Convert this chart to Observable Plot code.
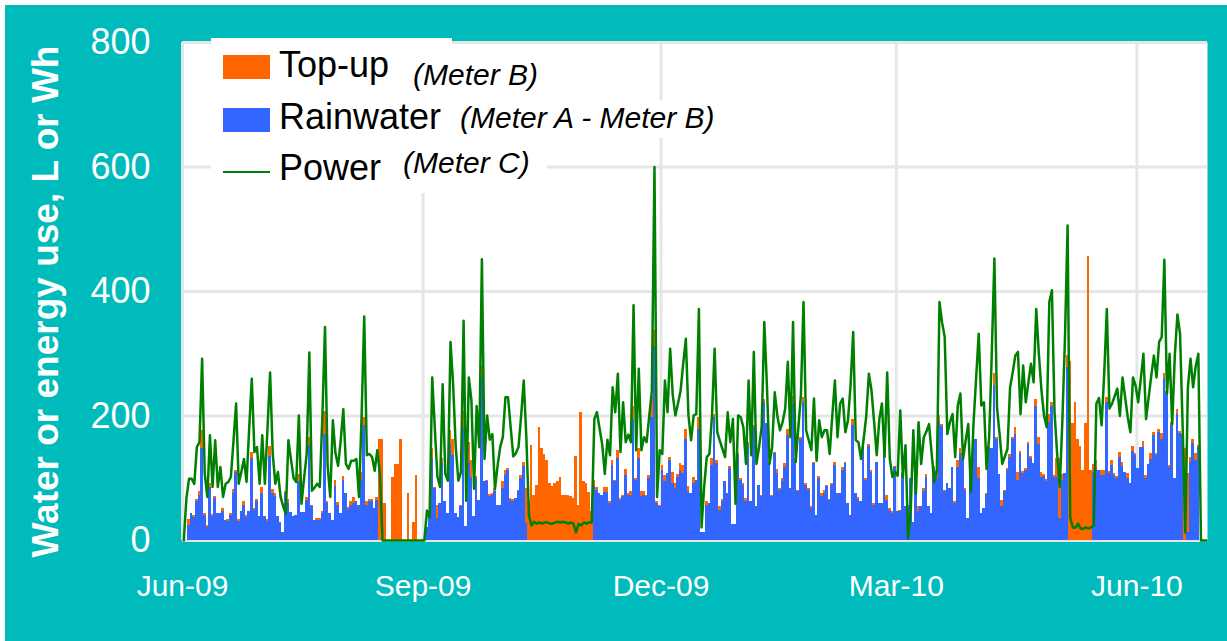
<!DOCTYPE html>
<html>
<head>
<meta charset="utf-8">
<script src="https://cdn.jsdelivr.net/npm/d3@7"></script>
<script src="https://cdn.jsdelivr.net/npm/@observablehq/plot@0.6"></script>
<style>
  html, body { margin: 0; padding: 0; background: #ffffff; }
  #wrap { position: relative; width: 1227px; height: 641px; overflow: hidden; font-family: "Liberation Sans", Arial, sans-serif; }
  #bg { position: absolute; left: 5px; top: 5px; right: 0; bottom: 0; background: #00BBBB; }
  #chart { position: absolute; left: 0; top: 0; }
  .lg { position: absolute; white-space: nowrap; line-height: 1; color: #000; }
  .box { position: absolute; background: #fff; }
</style>
</head>
<body>
<div id="wrap">
  <div id="bg"></div>
  <div id="chart"></div>
  <div id="legend"></div>
</div>
<script>
// ---- data: daily values from 1 Jun 2009 (index 0) ----
const startDay = "2009-06-01";
const endDay = "2010-06-28";

const rainwater = [
  0,0,24,43,37,63,72,147,40,21,
  85,38,68,43,43,47,32,30,40,75,
  110,31,47,56,37,47,132,48,63,38,
  75,38,30,135,75,70,38,29,13,75,
  59,45,38,40,94,45,45,64,153,54,
  32,32,32,43,171,59,43,32,87,56,
  43,96,76,49,56,59,62,56,96,185,
  56,62,62,51,64,0,0,0,0,0,
  0,0,0,0,0,0,0,0,0,0,
  0,0,0,21,43,131,83,35,59,123,
  62,43,156,137,44,37,54,182,22,126,
  102,39,99,64,262,95,94,70,72,79,
  56,56,83,105,112,65,63,67,78,100,
  119,27,0,0,0,0,0,0,0,0,
  0,0,0,0,0,0,0,0,0,0,
  0,0,0,0,0,0,0,86,80,75,
  72,77,77,59,120,94,131,64,70,105,
  72,73,195,96,132,70,73,70,100,198,
  311,59,54,112,94,107,128,91,83,102,
  112,107,163,78,75,91,96,179,13,13,
  56,60,120,197,124,48,62,95,75,116,
  25,25,137,96,88,63,153,63,182,54,
  88,71,222,188,123,70,139,107,80,94,
  118,169,83,218,128,78,162,222,88,80,
  51,123,40,99,70,75,86,64,88,120,
  75,75,112,123,59,40,185,75,66,63,
  152,96,151,110,56,126,60,60,163,64,
  48,44,118,46,46,107,54,56,99,29,
  115,46,54,78,102,54,43,115,102,191,
  183,78,91,83,118,59,118,140,132,80,
  35,124,163,163,99,43,51,74,147,147,
  249,163,106,54,78,113,134,163,171,96,
  139,107,112,155,132,123,215,155,102,103,
  95,190,215,102,102,35,97,107,278,0,
  0,0,0,0,0,0,0,0,110,115,
  112,104,104,222,107,120,104,99,134,119,
  110,99,91,143,137,116,150,150,99,122,
  130,169,137,174,163,260,236,118,185,99,
  203,172,171,0,13,126,156,129,150,0,
  0,0
];

const topUp = [
  0,0,10,0,3,3,6,30,4,3,
  7,4,3,0,0,4,0,3,4,7,
  3,3,0,6,3,0,10,4,3,0,
  10,0,3,16,7,5,0,0,0,4,
  7,0,0,0,12,0,0,5,13,3,
  0,3,3,4,36,4,0,0,9,5,
  0,7,0,4,6,10,0,0,14,13,
  6,4,4,0,5,162,162,59,0,0,
  101,122,122,162,0,0,75,0,29,104,
  0,0,0,0,0,16,2,21,0,8,
  0,0,21,26,0,0,3,26,0,32,
  27,0,4,0,19,0,3,4,3,4,
  0,0,11,8,3,3,3,0,2,5,
  6,56,62,152,72,88,182,147,138,129,
  91,86,91,95,102,72,72,72,70,68,
  135,56,205,94,91,77,46,11,5,0,
  0,8,8,3,8,3,13,3,3,9,
  3,5,21,4,15,8,5,3,5,33,
  27,3,3,9,11,0,5,19,8,4,
  11,14,15,8,0,11,0,19,0,0,
  7,0,11,6,4,7,4,0,0,3,
  0,0,3,4,3,4,4,0,3,0,
  0,2,4,0,3,3,3,7,3,6,
  5,9,0,13,4,2,4,8,4,3,
  3,3,0,4,5,6,3,2,3,5,
  1,0,6,3,0,0,9,0,3,0,
  4,4,4,3,3,0,0,0,4,8,
  4,3,1,0,2,0,0,0,0,0,
  0,8,0,5,4,0,0,4,11,10,
  4,2,0,0,0,3,10,7,7,3,
  0,4,7,0,18,0,0,2,4,0,
  19,3,0,11,2,2,4,3,10,13,
  4,4,3,3,3,0,12,10,8,3,
  3,12,7,2,29,96,9,0,19,288,
  188,221,162,151,112,188,456,112,12,13,
  0,8,8,8,4,8,3,4,7,7,
  0,9,0,8,3,0,0,9,6,0,
  9,4,3,5,9,9,3,3,4,0,
  7,3,0,147,95,7,7,11,3,0,
  0,0
];

const power = [
  0,68,99,99,91,150,158,292,107,70,
  169,86,161,86,118,70,91,94,102,160,
  220,91,110,131,94,180,260,142,150,91,
  169,91,180,270,140,91,110,70,55,43,
  161,130,100,94,201,59,100,139,302,80,
  85,91,86,200,343,120,70,193,140,120,
  160,211,123,115,128,128,131,70,200,360,
  137,139,134,112,145,107,0,0,0,0,
  0,0,0,0,0,0,0,0,0,0,
  0,0,0,48,37,262,180,102,86,251,
  107,96,319,250,150,96,110,353,64,262,
  225,83,216,150,452,131,201,162,171,83,
  120,150,166,230,230,182,135,140,150,200,
  257,166,40,24,30,27,29,27,29,29,
  27,27,29,30,29,30,29,27,29,27,
  13,27,24,29,27,29,29,195,206,180,
  155,107,162,137,246,206,268,142,222,158,
  170,158,378,145,276,145,166,158,200,240,
  600,70,145,139,257,206,308,233,201,220,
  241,284,324,201,161,201,203,372,21,86,
  134,139,200,308,174,160,147,134,206,158,
  195,59,201,198,182,123,257,137,303,123,
  150,182,351,250,123,150,238,200,177,190,
  212,287,166,351,126,180,233,383,177,161,
  145,228,128,193,166,177,177,139,200,257,
  166,220,228,174,193,250,335,161,158,131,
  163,200,268,241,190,137,195,220,134,270,
  131,102,110,104,209,102,153,3,48,177,
  75,190,123,166,175,187,140,94,112,383,
  350,327,171,190,203,134,217,236,131,160,
  187,78,187,260,332,217,222,115,166,300,
  453,214,170,123,135,147,246,270,297,303,
  203,281,222,254,284,254,372,300,241,200,
  182,383,402,206,139,86,193,327,506,37,
  21,21,27,19,19,21,19,21,24,220,
  229,185,268,372,212,220,232,244,200,262,
  230,198,174,262,249,222,260,300,195,230,
  265,297,262,319,327,451,236,300,187,297,
  363,332,182,13,246,292,246,280,300,0,
  0,0
];

const yTicks = [0, 200, 400, 600, 800];
const xTickDates = ["2009-06-01", "2009-09-01", "2009-12-01", "2010-03-01", "2010-06-01"];
const yTitle = "Water or energy use, L or Wh";
const legendItems = [
  {name: "Top-up", note: "(Meter B)", kind: "rect", color: "#FF6600"},
  {name: "Rainwater", note: "(Meter A - Meter B)", kind: "rect", color: "#3366FF"},
  {name: "Power", note: "(Meter C)", kind: "line", color: "#008000"}
];

// ---- build table ----
const DAY = 864e5;
const t0 = new Date(startDay + "T00:00:00Z").getTime();
const rows = rainwater.map((r, i) => ({
  d1: new Date(t0 + i * DAY),
  d2: new Date(t0 + (i + 1) * DAY),
  mid: new Date(t0 + (i + 0.5) * DAY),
  rain: r,
  top: topUp[i],
  total: r + topUp[i],
  power: power[i]
}));
const tickDates = xTickDates.map(s => new Date(s + "T00:00:00Z"));
const fmt = d3.utcFormat("%b-%y");

const chart = Plot.plot({
  width: 1227,
  height: 641,
  marginLeft: 182,
  marginRight: 20,
  marginTop: 42,
  marginBottom: 101,
  style: {background: "transparent", fontFamily: "'Liberation Sans', Arial, sans-serif", fontSize: "36px", color: "#ffffff", overflow: "visible"},
  x: {type: "utc", domain: [new Date(startDay + "T00:00:00Z"), new Date(endDay + "T00:00:00Z")], ticks: tickDates, tickFormat: fmt, tickSize: 0, tickPadding: 34, label: null, line: false},
  y: {domain: [0, 800], ticks: yTicks, tickSize: 0, tickPadding: 32, label: null, line: false},
  marks: [
    Plot.frame({fill: "#ffffff", stroke: "none"}),
    Plot.ruleY(yTicks, {stroke: "#E6E6E6", strokeWidth: 3}),
    Plot.ruleX(tickDates, {stroke: "#E6E6E6", strokeWidth: 3}),
    Plot.rectY(rows.filter(d => d.rain > 0), {x1: "d1", x2: "d2", y1: 0, y2: "rain", fill: "#3366FF", inset: 0, shapeRendering: "crispEdges"}),
    Plot.rectY(rows.filter(d => d.top > 0), {x1: "d1", x2: "d2", y1: "rain", y2: "total", fill: "#FF6600", inset: 0, shapeRendering: "crispEdges"}),
    Plot.line(rows, {x: "mid", y: "power", stroke: "#008000", strokeWidth: 2.5, strokeLinejoin: "round"}),
    Plot.text([yTitle], {frameAnchor: "left", textAnchor: "middle", dx: -136, dy: 10, rotate: -90, fill: "#ffffff", fontSize: 37, fontWeight: "bold", text: d => d})
  ]
});

// axis text sizes
chart.querySelectorAll('g[aria-label^="x-axis"] text').forEach(t => { t.setAttribute("font-size", "30"); t.style.fontSize = "30px"; t.setAttribute("fill", "#ffffff"); });
chart.querySelectorAll('g[aria-label^="y-axis"] text').forEach(t => { t.setAttribute("font-size", "36"); t.style.fontSize = "36px"; t.setAttribute("fill", "#ffffff"); });
document.getElementById("chart").appendChild(chart);

// ---- legend overlay (layout only) ----
const lg = document.getElementById("legend");
function add(cls, css, text) {
  const el = document.createElement("div");
  el.className = cls;
  Object.assign(el.style, css);
  if (text) el.textContent = text;
  lg.appendChild(el);
  return el;
}
add("box", {left: "211px", top: "38px", width: "241px", height: "155px"});
add("box", {left: "405px", top: "56px", width: "142px", height: "38px"});
add("box", {left: "452px", top: "100px", width: "272px", height: "38px"});
add("box", {left: "398px", top: "148px", width: "149px", height: "40px"});
const rowTop = [46.5, 98.5, 149.5];
const swatchTop = [55, 108, 171];
const noteLeft = [413, 460, 403];
const noteTop = [59.6, 102.6, 147.6];
legendItems.forEach((it, i) => {
  if (it.kind === "rect") add("box", {left: "223px", top: swatchTop[i] + "px", width: "47px", height: "24px", background: it.color});
  else add("box", {left: "223px", top: swatchTop[i] + "px", width: "47px", height: "2px", background: it.color});
  add("lg", {left: "279px", top: rowTop[i] + "px", fontSize: "36px"}, it.name);
  add("lg", {left: noteLeft[i] + "px", top: noteTop[i] + "px", fontSize: "30px", fontStyle: "italic"}, it.note);
});

if (rainwater.length !== topUp.length || rainwater.length !== power.length) {
  add("lg", {left: "600px", top: "300px", color: "red", fontSize: "20px"}, "len " + rainwater.length + " " + topUp.length + " " + power.length);
}
</script>
</body>
</html>
